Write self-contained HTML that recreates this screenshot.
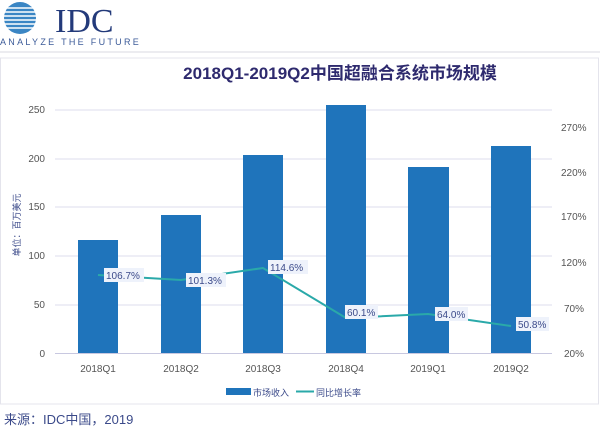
<!DOCTYPE html>
<html><head><meta charset="utf-8"><style>
body{margin:0;width:600px;height:427px;background:#fff;overflow:hidden;font-family:"Liberation Sans","Noto Sans CJK SC",sans-serif;}
</style></head><body>
<svg width="600" height="427" xmlns="http://www.w3.org/2000/svg" font-family="Liberation Sans, Noto Sans CJK SC, sans-serif">
<g>
<circle cx="20" cy="18" r="16" fill="#3b86c4"/>
<g stroke="#fff" stroke-width="1.6">
<line x1="0" y1="8" x2="48" y2="8"/><line x1="0" y1="12" x2="48" y2="12"/><line x1="0" y1="16" x2="48" y2="16"/><line x1="0" y1="20" x2="48" y2="20"/><line x1="0" y1="24" x2="48" y2="24"/><line x1="0" y1="28" x2="48" y2="28"/>
</g>
<text x="55" y="32" font-family="Liberation Serif, serif" font-size="34" fill="#233a7a">IDC</text>
<text x="0" y="45" font-size="9" fill="#3b5a98" letter-spacing="2.3">ANALYZE THE FUTURE</text>
</g>
<line x1="0" y1="52" x2="600" y2="52" stroke="#d8d8e0"/>
<rect x="0.5" y="58" width="598" height="346" fill="none" stroke="#e4e4ec"/>
<text x="340" y="79" text-anchor="middle" font-size="17" font-weight="bold" fill="#2e2a6e">2018Q1-2019Q2中国超融合系统市场规模</text>
<g stroke="#dcdcee" stroke-width="1">
<line x1="55" y1="110" x2="552" y2="110"/><line x1="55" y1="159" x2="552" y2="159"/><line x1="55" y1="207" x2="552" y2="207"/><line x1="55" y1="256" x2="552" y2="256"/><line x1="55" y1="305" x2="552" y2="305"/>
</g>
<line x1="55" y1="353.5" x2="552" y2="353.5" stroke="#c8c8e0"/>
<g font-size="10" fill="#555" text-anchor="end">
<text x="45" y="113">250</text><text x="45" y="162">200</text><text x="45" y="210">150</text><text x="45" y="259">100</text><text x="45" y="308">50</text><text x="45" y="357">0</text>
</g>
<g font-size="10" fill="#555">
<text x="561" y="131">270%</text><text x="561" y="176">220%</text><text x="561" y="220">170%</text><text x="561" y="266">120%</text><text x="564" y="312">70%</text><text x="564" y="357">20%</text>
</g>
<text transform="translate(20,225) rotate(-90)" text-anchor="middle" font-size="9" fill="#3b4a8a">单位：百万美元</text>
<g fill="#1f74bb">
<rect x="78" y="240" width="40" height="113"/>
<rect x="161" y="215" width="40" height="138"/>
<rect x="243" y="155" width="40" height="198"/>
<rect x="326" y="105" width="40" height="248"/>
<rect x="408" y="167" width="41" height="186"/>
<rect x="491" y="146" width="40" height="207"/>
</g>
<g font-size="10" fill="#555" text-anchor="middle">
<text x="98" y="372">2018Q1</text><text x="181" y="372">2018Q2</text><text x="263" y="372">2018Q3</text><text x="346" y="372">2018Q4</text><text x="428" y="372">2019Q1</text><text x="511" y="372">2019Q2</text>
</g>
<polyline points="98,275 181,280 263,268 346,318 428,314 511,326" fill="none" stroke="#2aa9a9" stroke-width="2"/>
<g font-size="10" fill="#3b4a8a">
<rect x="104" y="268" width="40" height="14" fill="#eef2fb"/><text x="106" y="279">106.7%</text>
<rect x="186" y="273" width="40" height="14" fill="#eef2fb"/><text x="188" y="284">101.3%</text>
<rect x="268" y="260" width="40" height="14" fill="#eef2fb"/><text x="270" y="271">114.6%</text>
<rect x="345" y="305" width="33" height="14" fill="#eef2fb"/><text x="347" y="316">60.1%</text>
<rect x="435" y="307" width="33" height="14" fill="#eef2fb"/><text x="437" y="318">64.0%</text>
<rect x="516" y="317" width="33" height="14" fill="#eef2fb"/><text x="518" y="328">50.8%</text>
</g>
<rect x="226" y="388" width="25" height="7" fill="#1f74bb"/>
<text x="253" y="396" font-size="9" fill="#3b4a8a">市场收入</text>
<line x1="296" y1="391.5" x2="314" y2="391.5" stroke="#2aa9a9" stroke-width="2"/>
<text x="316" y="396" font-size="9" fill="#3b4a8a">同比增长率</text>
<text x="4" y="424" font-size="13" fill="#3b4a8a">来源：IDC中国，2019</text>
</svg>
</body></html>
